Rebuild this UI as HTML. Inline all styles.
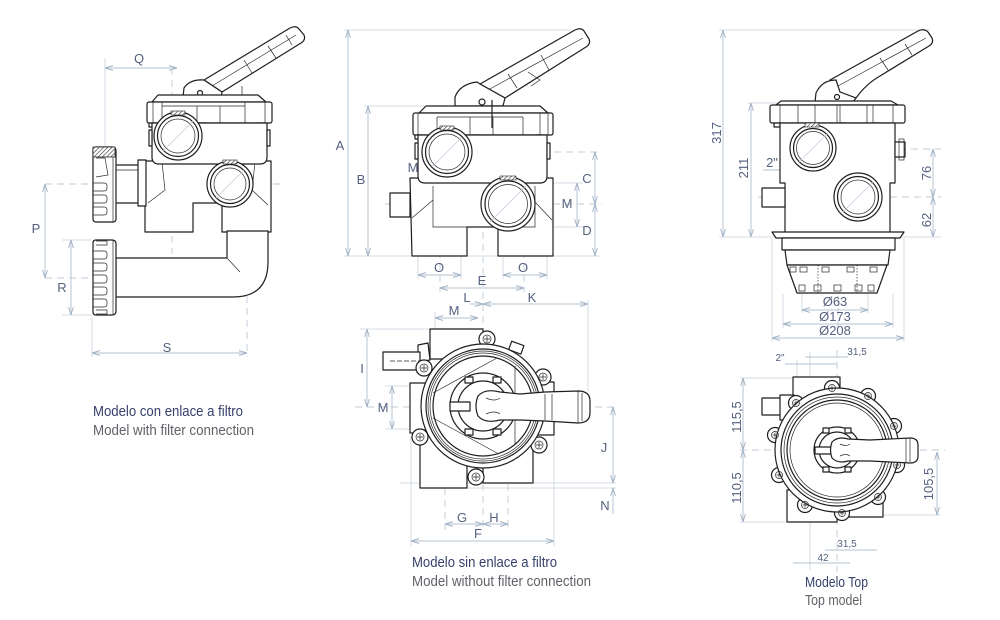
<!DOCTYPE html>
<html><head><meta charset="utf-8"><style>
html,body{margin:0;padding:0;background:#fff;}
svg{display:block}
.d{stroke:#1e1e1e;stroke-width:1.2;fill:#fff;stroke-linejoin:round}
.dn{stroke:#1e1e1e;stroke-width:1.2;fill:none}
.t{stroke:#2a2a2a;stroke-width:0.7;fill:none}
.lt{stroke:#c0cad7;stroke-width:0.7;fill:none}
.dim{stroke:#b3c0d1;stroke-width:0.9;fill:none}
.ext{stroke:#c8d2de;stroke-width:0.8;fill:none}
.dash{stroke:#c0cad7;stroke-width:0.9;fill:none;stroke-dasharray:7 5}
.lb{font-family:"Liberation Sans",sans-serif;font-size:13px;fill:#55617f}
.sm{font-family:"Liberation Sans",sans-serif;font-size:10px;fill:#55617f}
.t1{font-family:"Liberation Sans",sans-serif;font-size:15px;fill:#36416b}
.t2{font-family:"Liberation Sans",sans-serif;font-size:15px;fill:#606268}
</style></head><body>
<svg width="1000" height="620" viewBox="0 0 1000 620" xmlns="http://www.w3.org/2000/svg">
<defs>
<marker id="a" viewBox="0 0 8 6" refX="8" refY="3" markerWidth="8" markerHeight="6" orient="auto-start-reverse" markerUnits="userSpaceOnUse"><path d="M0,0.6 L8,3 L0,5.4" fill="none" stroke="#9fb0c4" stroke-width="0.9"/></marker>
<pattern id="h" width="3" height="3" patternUnits="userSpaceOnUse" patternTransform="rotate(45)"><rect width="3" height="3" fill="#fff"/><line x1="0" y1="0" x2="0" y2="3" stroke="#333" stroke-width="1.2"/></pattern>
</defs>

<!-- ================= VIEW 1 ================= -->
<g>
<line class="ext" x1="105" y1="58" x2="105" y2="152"/>
<line class="dim" x1="105" y1="68" x2="177" y2="68" marker-start="url(#a)" marker-end="url(#a)"/>
<line class="dash" x1="45" y1="184" x2="283" y2="184"/>
<line class="dash" x1="45" y1="278" x2="240" y2="278"/>
<line class="dash" x1="172" y1="68" x2="172" y2="254"/>
<line class="dash" x1="247" y1="200" x2="247" y2="357"/>
<line class="dim" x1="45" y1="184" x2="45" y2="278" marker-start="url(#a)" marker-end="url(#a)"/>
<line class="ext" x1="62" y1="240" x2="92" y2="240"/>
<line class="ext" x1="62" y1="315" x2="92" y2="315"/>
<line class="dim" x1="71" y1="240" x2="71" y2="315" marker-start="url(#a)" marker-end="url(#a)"/>
<line class="ext" x1="92" y1="318" x2="92" y2="357"/>
<line class="dim" x1="92" y1="353" x2="247" y2="353" marker-start="url(#a)" marker-end="url(#a)"/>
<text class="lb" x="139" y="63" text-anchor="middle">Q</text>
<text class="lb" x="36" y="233" text-anchor="middle">P</text>
<text class="lb" x="62" y="292" text-anchor="middle">R</text>
<text class="lb" x="167" y="352" text-anchor="middle">S</text>

<path class="d" d="M204,80 L290,28 Q296,25 299,29 L304,35 Q306,40 301,43 L222,92 Z"/>
<path class="t" d="M212,86 L296,35 M244,60 L252,73 M268,46 L276,58 M286,35 L292,45"/>
<path class="d" d="M183,97 L184,88 Q190,79 204,80 L222,92 L221,97 Z"/>
<circle class="d" cx="200" cy="93" r="2.5"/>
<line class="t" x1="242" y1="86" x2="242" y2="100"/>
<path class="d" d="M152,102 L158,95 L258,95 L266,102 Z"/>
<rect class="d" x="147" y="102" width="125" height="21" rx="2"/>
<path class="t" d="M153,102 V123 M162,102 V123 M197,106 V123 M220,106 V123 M245,102 V123 M265,102 V123 M162,106 H245"/>
<rect class="d" x="149" y="123" width="7" height="4"/><rect class="d" x="199" y="123" width="7" height="4"/><rect class="d" x="256" y="123" width="7" height="4"/>
<path class="d" d="M145,161 L271,161 L271,232 L222,232 L222,203 L193,203 L193,232 L145,232 Z"/>
<path class="t" d="M162,162 L165,190 L148,203 M255,162 L252,190 L268,205"/>
<path class="d" d="M116,258 L227,258 L227,231 L268,231 L268,262 Q268,297 233,297 L116,297 Z"/>
<line class="t" x1="227" y1="258" x2="240" y2="272"/>
<path class="d" d="M152,123 L267,123 L267,157 Q267,164 260,164 L159,164 Q152,164 152,157 Z"/>
<rect class="d" x="149" y="130" width="3" height="16"/><rect class="d" x="267" y="130" width="3" height="16"/>
<circle class="d" cx="178" cy="136" r="24"/>
<circle class="dn" cx="178" cy="136" r="20.5" stroke-width="1.6"/>
<circle class="t" cx="178" cy="136" r="17"/>
<path class="lt" d="M163,151 L193,121"/>
<rect x="171" y="111" width="14" height="4" fill="url(#h)" stroke="#222" stroke-width="0.6"/>
<circle class="d" cx="230" cy="184" r="23"/>
<circle class="dn" cx="230" cy="184" r="19.5" stroke-width="1.6"/>
<circle class="t" cx="230" cy="184" r="16"/>
<path class="lt" d="M216,198 L244,170"/>
<rect x="223" y="160" width="14" height="4" fill="url(#h)" stroke="#222" stroke-width="0.6"/>
<rect class="d" x="114" y="165" width="25" height="38"/>
<rect class="d" x="138" y="160" width="8" height="46"/>
<line class="t" x1="116" y1="170" x2="138" y2="170"/>
<path class="d" d="M93,150 Q93,147 96,147 L112,147 Q116,147 116,151 L116,219 Q116,222 113,222 L96,222 Q93,222 93,219 Z"/>
<rect x="93" y="147" width="22" height="10" fill="url(#h)" stroke="#222" stroke-width="0.8"/>
<path class="t" d="M96,158 L105,158 L108,175 L96,177 M113,157 L113,222"/>
<path class="t" d="M93,183 H104 Q107,183 107,186 V188 Q107,191 104,191 H93 M93,195 H104 Q107,195 107,198 V200 Q107,203 104,203 H93 M93,207 H104 Q107,207 107,210 V212 Q107,215 104,215 H93"/>
<path class="d" d="M93,243 Q93,240 96,240 L112,240 Q116,240 116,244 L116,311 Q116,315 112,315 L96,315 Q93,315 93,312 Z"/>
<path class="t" d="M113,240 V315 M96,241 H107 V245 H96 M96,310 H107 V314 H96"/>
<path class="t" d="M93,251 H104 Q107,251 107,254 V256 Q107,259 104,259 H93 M93,263 H104 Q107,263 107,266 V268 Q107,271 104,271 H93 M93,275 H104 Q107,275 107,278 V280 Q107,283 104,283 H93 M93,287 H104 Q107,287 107,290 V292 Q107,295 104,295 H93 M93,299 H104 Q107,299 107,302 V304 Q107,307 104,307 H93"/>
</g>
<text class="t1" x="93" y="416" textLength="150" lengthAdjust="spacingAndGlyphs">Modelo con enlace a filtro</text>
<text class="t2" x="93" y="435" textLength="161" lengthAdjust="spacingAndGlyphs">Model with filter connection</text>

<!-- ================= VIEW 2 ================= -->
<g>
<line class="ext" x1="344" y1="30" x2="572" y2="30"/>
<line class="ext" x1="364" y1="106" x2="425" y2="106"/>
<line class="ext" x1="344" y1="256" x2="600" y2="256"/>
<line class="dim" x1="348" y1="30" x2="348" y2="256" marker-start="url(#a)" marker-end="url(#a)"/>
<line class="dim" x1="368" y1="106" x2="368" y2="256" marker-start="url(#a)" marker-end="url(#a)"/>
<line class="dash" x1="470" y1="152" x2="600" y2="152"/>
<line class="dash" x1="385" y1="204" x2="602" y2="204"/>
<line class="dash" x1="483" y1="100" x2="483" y2="532"/>
<line class="dim" x1="595" y1="152" x2="595" y2="204" marker-start="url(#a)" marker-end="url(#a)"/>
<line class="dim" x1="595" y1="204" x2="595" y2="256" marker-start="url(#a)" marker-end="url(#a)"/>
<line class="ext" x1="540" y1="183" x2="583" y2="183"/>
<line class="ext" x1="540" y1="227" x2="583" y2="227"/>
<line class="dim" x1="577" y1="183" x2="577" y2="227" marker-start="url(#a)" marker-end="url(#a)"/>
<line class="ext" x1="418" y1="257" x2="418" y2="279"/><line class="ext" x1="461" y1="257" x2="461" y2="279"/>
<line class="ext" x1="503" y1="257" x2="503" y2="279"/><line class="ext" x1="547" y1="257" x2="547" y2="279"/>
<line class="dash" x1="440" y1="227" x2="440" y2="292"/><line class="dash" x1="524" y1="227" x2="524" y2="292"/>
<line class="dim" x1="418" y1="275" x2="461" y2="275" marker-start="url(#a)" marker-end="url(#a)"/>
<line class="dim" x1="503" y1="275" x2="547" y2="275" marker-start="url(#a)" marker-end="url(#a)"/>
<line class="dim" x1="440" y1="288" x2="524" y2="288" marker-start="url(#a)" marker-end="url(#a)"/>
<line class="dim" x1="470" y1="304" x2="483" y2="304" marker-end="url(#a)"/>
<line class="dim" x1="483" y1="304" x2="588" y2="304" marker-start="url(#a)" marker-end="url(#a)"/>
<text class="lb" x="340" y="150" text-anchor="middle">A</text>
<text class="lb" x="361" y="184" text-anchor="middle">B</text>
<text class="lb" x="587" y="183" text-anchor="middle">C</text>
<text class="lb" x="587" y="235" text-anchor="middle">D</text>
<text class="lb" x="567" y="208" text-anchor="middle">M</text>
<text class="lb" x="413" y="172" text-anchor="middle">M</text>
<text class="lb" x="473" y="224" text-anchor="middle">M</text>
<text class="lb" x="439" y="272" text-anchor="middle">O</text>
<text class="lb" x="523" y="272" text-anchor="middle">O</text>
<text class="lb" x="482" y="285" text-anchor="middle">E</text>
<text class="lb" x="467" y="302" text-anchor="middle">L</text>
<text class="lb" x="532" y="302" text-anchor="middle">K</text>

<path class="d" d="M480,84 L575,30 Q581,27 584,31 L589,39 Q591,44 586,47 L505,98 Z"/>
<path class="t" d="M488,90 L583,38 M508,74 L517,88 M541,55 L549,70 M528,72 L540,80 L531,86"/>
<path class="d" d="M455,106 L455,97 Q460,84 477,82 L480,84 L505,98 L503,106 Z"/>
<circle class="d" cx="482" cy="102" r="3"/>
<path class="d" d="M419,113 L426,106 L540,106 L548,113 Z"/>
<rect class="d" x="413" y="113" width="140" height="22" rx="2"/>
<path class="t" d="M418,113 V135 M437,117 V135 M470,117 V135 M493,117 V135 M523,117 V135 M540,113 V135 M548,113 V135 M437,117 H523"/>
<line class="dn" x1="492" y1="100" x2="492" y2="128"/>
<rect class="d" x="415" y="135" width="7" height="4"/><rect class="d" x="473" y="135" width="7" height="4"/><rect class="d" x="535" y="135" width="7" height="4"/>
<path class="d" d="M410,178 L553,178 L553,256 L498,256 L498,227 L467,227 L467,256 L412,256 Z"/>
<path class="t" d="M433,186 L433,227 L535,227 L535,186 M412,218 L433,200 M535,202 L552,220"/>
<rect class="d" x="390" y="193" width="20" height="24"/>
<path class="d" d="M418,135 L547,135 L547,176 Q547,183 540,183 L425,183 Q418,183 418,176 Z"/>
<rect class="d" x="415" y="143" width="3" height="16"/><rect class="d" x="547" y="143" width="3" height="16"/>
<circle class="d" cx="447" cy="152" r="25"/>
<circle class="dn" cx="447" cy="152" r="21.5" stroke-width="1.6"/>
<circle class="t" cx="447" cy="152" r="18"/>
<rect x="440" y="126" width="14" height="4" fill="url(#h)" stroke="#222" stroke-width="0.6"/>
<circle class="d" cx="508" cy="204" r="27"/>
<circle class="dn" cx="508" cy="204" r="23" stroke-width="1.6"/>
<circle class="t" cx="508" cy="204" r="19.5"/>
<rect x="500" y="176" width="16" height="4" fill="url(#h)" stroke="#222" stroke-width="0.6"/>
<path class="lt" d="M432,167 L462,137 M490,222 L526,186"/>
</g>

<!-- ================= VIEW 3 ================= -->
<g>
<line class="ext" x1="588" y1="300" x2="588" y2="392"/>
<line class="ext" x1="435" y1="312" x2="435" y2="330"/>
<line class="dim" x1="435" y1="318" x2="478" y2="318" marker-start="url(#a)" marker-end="url(#a)"/>
<text class="lb" x="454" y="315" text-anchor="middle">M</text>
<line class="ext" x1="360" y1="329" x2="432" y2="329"/>
<line class="dash" x1="355" y1="407" x2="617" y2="407"/>
<line class="dim" x1="367" y1="329" x2="367" y2="407" marker-start="url(#a)" marker-end="url(#a)"/>
<line class="ext" x1="385" y1="386" x2="412" y2="386"/><line class="ext" x1="385" y1="429" x2="412" y2="429"/>
<line class="dim" x1="392" y1="386" x2="392" y2="429" marker-start="url(#a)" marker-end="url(#a)"/>
<line class="ext" x1="400" y1="483" x2="616" y2="483"/>
<line class="ext" x1="467" y1="488" x2="616" y2="488"/>
<line class="dim" x1="613" y1="407" x2="613" y2="483" marker-start="url(#a)" marker-end="url(#a)"/>
<line class="dim" x1="613" y1="514" x2="613" y2="488" marker-end="url(#a)"/>
<line class="dash" x1="445" y1="488" x2="445" y2="530"/>
<line class="dash" x1="508" y1="484" x2="508" y2="530"/>
<line class="dim" x1="445" y1="524" x2="483" y2="524" marker-start="url(#a)" marker-end="url(#a)"/>
<line class="dim" x1="483" y1="524" x2="508" y2="524" marker-start="url(#a)" marker-end="url(#a)"/>
<line class="ext" x1="411" y1="437" x2="411" y2="546"/><line class="ext" x1="554" y1="437" x2="554" y2="546"/>
<line class="dim" x1="411" y1="541" x2="554" y2="541" marker-start="url(#a)" marker-end="url(#a)"/>
<text class="lb" x="362" y="373" text-anchor="middle">I</text>
<text class="lb" x="383" y="412" text-anchor="middle">M</text>
<text class="lb" x="604" y="452" text-anchor="middle">J</text>
<text class="lb" x="605" y="510" text-anchor="middle">N</text>
<text class="lb" x="462" y="522" text-anchor="middle">G</text>
<text class="lb" x="494" y="522" text-anchor="middle">H</text>
<text class="lb" x="478" y="538" text-anchor="middle">F</text>

<rect class="d" x="430" y="329" width="53" height="30"/>
<rect class="d" x="410" y="383" width="20" height="50"/>
<rect class="d" x="420" y="430" width="47" height="58"/>
<rect class="d" x="483" y="437" width="50" height="46"/>
<rect class="d" x="537" y="382" width="17" height="53"/>
<path class="d" d="M418,345 L428,343 L430,360 L418,362 Z"/>
<rect class="d" x="383" y="352" width="37" height="18"/>
<line class="t" x1="390" y1="361" x2="420" y2="361" stroke-dasharray="5 2"/>
<rect class="d" x="510" y="343" width="13" height="9" transform="rotate(20 516 347)"/>
<g class="d">
<circle cx="487" cy="339" r="8"/><circle cx="424" cy="368" r="8"/><circle cx="543" cy="377" r="8"/>
<circle cx="420" cy="437" r="8"/><circle cx="539" cy="445" r="8"/><circle cx="476" cy="477" r="8"/>
</g>
<circle class="d" cx="483" cy="406" r="62"/>
<circle class="dn" cx="483" cy="406" r="57" stroke-width="1.6"/>
<circle class="t" cx="483" cy="406" r="55"/>
<circle class="t" cx="483" cy="406" r="53"/>
<circle class="dn" cx="483" cy="406" r="50"/>
<path class="t" d="M497,358 L433,393 M433,418 L497,453 M515,366 L515,445"/>
<g class="t">
<circle cx="487" cy="339" r="4"/><path d="M484,339 H490 M487,336 V342"/>
<circle cx="424" cy="368" r="4"/><path d="M421,368 H427 M424,365 V371"/>
<circle cx="543" cy="377" r="4"/><path d="M540,377 H546 M543,374 V380"/>
<circle cx="420" cy="437" r="4"/><path d="M417,437 H423 M420,434 V440"/>
<circle cx="539" cy="445" r="4"/><path d="M536,445 H542 M539,442 V448"/>
<circle cx="476" cy="477" r="4"/><path d="M473,477 H479 M476,474 V480"/>
</g>
<circle class="d" cx="483" cy="406" r="33"/>
<circle class="dn" cx="483" cy="406" r="25"/>
<g class="d"><rect x="465" y="377" width="8" height="6"/><rect x="493" y="377" width="8" height="6"/><rect x="465" y="429" width="8" height="6"/><rect x="493" y="429" width="8" height="6"/></g>
<rect class="d" x="450" y="402" width="20" height="9"/>
<path class="d" d="M478,396 Q485,388 500,392 L520,394 L545,392 L578,391 Q590,391 590,401 L590,413 Q590,423 578,423 L545,421 L520,420 L500,420 Q485,424 478,416 Q474,406 478,396 Z"/>
<path class="t" d="M486,398 Q495,402 500,398 M486,414 Q495,410 500,414 M578,391 V423 M582,393 V421 M545,394 V420 M552,394 V420"/>
</g>
<text class="t1" x="412" y="567" textLength="145" lengthAdjust="spacingAndGlyphs">Modelo sin enlace a filtro</text>
<text class="t2" x="412" y="586" textLength="179" lengthAdjust="spacingAndGlyphs">Model without filter connection</text>

<!-- ================= VIEW 4 ================= -->
<g>
<line class="ext" x1="719" y1="30" x2="930" y2="30"/>
<line class="ext" x1="747" y1="103" x2="792" y2="103"/>
<line class="ext" x1="719" y1="237" x2="941" y2="237"/>
<line class="dim" x1="723" y1="30" x2="723" y2="237" marker-start="url(#a)" marker-end="url(#a)"/>
<line class="dim" x1="751" y1="103" x2="751" y2="237" marker-start="url(#a)" marker-end="url(#a)"/>
<line class="dash" x1="815" y1="149" x2="941" y2="149"/>
<line class="dash" x1="758" y1="197" x2="941" y2="197"/>
<line class="dash" x1="838" y1="80" x2="838" y2="330"/>
<line class="dim" x1="933" y1="149" x2="933" y2="197" marker-start="url(#a)" marker-end="url(#a)"/>
<line class="dim" x1="933" y1="197" x2="933" y2="237" marker-start="url(#a)" marker-end="url(#a)"/>
<line class="dim" x1="763" y1="170" x2="800" y2="170"/>
<line class="dim" x1="810" y1="218" x2="850" y2="218"/>
<line class="ext" x1="772" y1="238" x2="772" y2="342"/><line class="ext" x1="904" y1="238" x2="904" y2="342"/>
<line class="ext" x1="783" y1="294" x2="783" y2="328"/><line class="ext" x1="893" y1="294" x2="893" y2="328"/>
<line class="ext" x1="802" y1="294" x2="802" y2="313"/><line class="ext" x1="868" y1="294" x2="868" y2="313"/>
<line class="dim" x1="802" y1="310" x2="868" y2="310" marker-start="url(#a)" marker-end="url(#a)"/>
<line class="dim" x1="783" y1="324" x2="893" y2="324" marker-start="url(#a)" marker-end="url(#a)"/>
<line class="dim" x1="772" y1="338" x2="904" y2="338" marker-start="url(#a)" marker-end="url(#a)"/>
<text class="lb" transform="translate(721,133) rotate(-90)" text-anchor="middle">317</text>
<text class="lb" transform="translate(748,168) rotate(-90)" text-anchor="middle">211</text>
<text class="lb" transform="translate(931,173) rotate(-90)" text-anchor="middle">76</text>
<text class="lb" transform="translate(931,220) rotate(-90)" text-anchor="middle">62</text>
<text class="lb" x="772" y="167" text-anchor="middle">2"</text>
<text class="lb" x="818" y="217" text-anchor="middle">2"</text>
<text class="lb" x="835" y="306" text-anchor="middle">Ø63</text>
<text class="lb" x="835" y="321" text-anchor="middle">Ø173</text>
<text class="lb" x="835" y="335" text-anchor="middle">Ø208</text>

<path class="d" d="M830,80 L918,31 Q924,28 928,32 L932,38 Q934,43 929,46 L880,76 Q866,84 856,98 L840,92 Z"/>
<path class="t" d="M838,86 L926,38 M880,58 L888,70 M905,44 L912,55"/>
<path class="d" d="M815,102 L816,93 Q822,80 836,80 L840,92 L856,98 L853,102 Z"/>
<circle class="d" cx="837" cy="97" r="2.5"/>
<path class="d" d="M776,105 L781,101 L891,101 L898,105 Z"/>
<rect class="d" x="770" y="105" width="135" height="18" rx="2"/>
<path class="t" d="M780,105 V123 M798,105 V123 M815,105 V123 M837,105 V123 M840,105 V123 M867,105 V123 M873,105 V123 M893,105 V123"/>
<g class="d"><rect x="774" y="123" width="6" height="4"/><rect x="807" y="123" width="6" height="4"/><rect x="840" y="123" width="6" height="4"/><rect x="874" y="123" width="6" height="4"/></g>
<path class="d" d="M780,123 L895,123 L895,183 L890,183 L890,233 L785,233 L785,183 L780,183 Z"/>
<rect class="d" x="762" y="188" width="23" height="19"/>
<rect class="d" x="895" y="142" width="10" height="15"/>
<rect class="t" x="899" y="139" width="5" height="21"/>
<path class="d" d="M772,232 L904,232 L900,238 L776,238 Z"/>
<rect class="d" x="782" y="238" width="113" height="12"/>
<path class="d" d="M785,250 L890,250 L888,265 L787,265 Z"/>
<path class="d" d="M787,265 L887,265 L877,293 L797,293 Z"/>
<g class="t">
<rect x="790" y="267" width="6" height="5"/><rect x="800" y="267" width="7" height="5"/><rect x="822" y="267" width="7" height="5"/><rect x="847" y="267" width="7" height="5"/><rect x="870" y="267" width="7" height="5"/>
<rect x="799" y="285" width="6" height="6"/><rect x="814" y="285" width="7" height="6"/><rect x="834" y="285" width="7" height="6"/><rect x="855" y="285" width="7" height="6"/><rect x="868" y="285" width="6" height="6"/>
<path d="M818,265 V293 M857,265 V293" stroke-dasharray="1.5 1.5"/>
</g>
<circle class="d" cx="813" cy="148" r="23"/>
<circle class="dn" cx="813" cy="148" r="19.5" stroke-width="1.6"/>
<circle class="t" cx="813" cy="148" r="16.5"/>
<rect x="805" y="123" width="14" height="4" fill="url(#h)" stroke="#222" stroke-width="0.6"/>
<circle class="d" cx="858" cy="197" r="24"/>
<circle class="dn" cx="858" cy="197" r="20.5" stroke-width="1.6"/>
<circle class="t" cx="858" cy="197" r="17"/>
<path class="lt" d="M798,163 L828,133 M843,212 L873,182"/>
</g>

<!-- ================= VIEW 5 ================= -->
<g>
<line class="dash" x1="740" y1="450" x2="945" y2="450"/>
<line class="dash" x1="837" y1="350" x2="837" y2="572"/>
<line class="ext" x1="740" y1="378" x2="795" y2="378"/>
<line class="ext" x1="740" y1="522" x2="790" y2="522"/>
<line class="ext" x1="880" y1="515" x2="941" y2="515"/>
<line class="dim" x1="743" y1="378" x2="743" y2="450" marker-start="url(#a)" marker-end="url(#a)"/>
<line class="dim" x1="743" y1="450" x2="743" y2="522" marker-start="url(#a)" marker-end="url(#a)"/>
<line class="dim" x1="937" y1="452" x2="937" y2="515" marker-start="url(#a)" marker-end="url(#a)"/>
<line class="ext" x1="797" y1="360" x2="797" y2="377"/><line class="ext" x1="810" y1="352" x2="810" y2="377"/>
<line class="dim" x1="785" y1="364" x2="837" y2="364"/>
<line class="dim" x1="805" y1="357" x2="848" y2="357"/>
<line class="ext" x1="810" y1="522" x2="810" y2="570"/>
<line class="dim" x1="825" y1="550" x2="877" y2="550"/>
<line class="dim" x1="793" y1="563" x2="850" y2="563"/>
<text class="lb" transform="translate(741,417) rotate(-90)" text-anchor="middle">115,5</text>
<text class="lb" transform="translate(741,488) rotate(-90)" text-anchor="middle">110,5</text>
<text class="lb" transform="translate(933,484) rotate(-90)" text-anchor="middle">105,5</text>
<text class="sm" x="780" y="361" text-anchor="middle">2"</text>
<text class="sm" x="857" y="355" text-anchor="middle">31,5</text>
<text class="sm" x="847" y="547" text-anchor="middle">31,5</text>
<text class="sm" x="823" y="561" text-anchor="middle">42</text>

<rect class="d" x="793" y="377" width="47" height="30"/>
<rect class="d" x="762" y="398" width="25" height="17"/>
<rect class="d" x="780" y="395" width="14" height="25"/>
<rect class="d" x="787" y="490" width="50" height="32"/>
<rect class="d" x="840" y="495" width="43" height="22"/>
<g class="d">
<circle cx="832" cy="388" r="7.5"/><circle cx="868" cy="396" r="7.5"/><circle cx="894" cy="426" r="7.5"/>
<circle cx="897" cy="465" r="7.5"/><circle cx="878" cy="497" r="7.5"/><circle cx="842" cy="513" r="7.5"/>
<circle cx="805" cy="505" r="7.5"/><circle cx="779" cy="475" r="7.5"/><circle cx="775" cy="435" r="7.5"/><circle cx="796" cy="403" r="7.5"/>
</g>
<circle class="d" cx="837" cy="450" r="62"/>
<circle class="dn" cx="837" cy="450" r="56" stroke-width="1.6"/>
<circle class="t" cx="837" cy="450" r="53"/>
<circle class="dn" cx="837" cy="450" r="50" stroke-width="1.4"/>
<circle class="t" cx="837" cy="450" r="47"/>
<g class="t">
<circle cx="832" cy="388" r="3.5"/><path d="M829.5,388 h5 M832,385.5 v5"/>
<circle cx="868" cy="396" r="3.5"/><path d="M865.5,396 h5 M868,393.5 v5"/>
<circle cx="894" cy="426" r="3.5"/><path d="M891.5,426 h5 M894,423.5 v5"/>
<circle cx="897" cy="465" r="3.5"/><path d="M894.5,465 h5 M897,462.5 v5"/>
<circle cx="878" cy="497" r="3.5"/><path d="M875.5,497 h5 M878,494.5 v5"/>
<circle cx="842" cy="513" r="3.5"/><path d="M839.5,513 h5 M842,510.5 v5"/>
<circle cx="805" cy="505" r="3.5"/><path d="M802.5,505 h5 M805,502.5 v5"/>
<circle cx="779" cy="475" r="3.5"/><path d="M776.5,475 h5 M779,472.5 v5"/>
<circle cx="775" cy="435" r="3.5"/><path d="M772.5,435 h5 M775,432.5 v5"/>
<circle cx="796" cy="403" r="3.5"/><path d="M793.5,403 h5 M796,400.5 v5"/>
</g>
<circle class="d" cx="837" cy="450" r="23"/>
<circle class="dn" cx="837" cy="450" r="18"/>
<g class="d"><rect x="823" y="428" width="6" height="5"/><rect x="845" y="428" width="6" height="5"/><rect x="823" y="467" width="6" height="5"/><rect x="845" y="467" width="6" height="5"/></g>
<rect class="d" x="815" y="447" width="16" height="7"/>
<path class="d" d="M832,442 Q838,436 848,439 L870,440 L910,438 Q918,438 918,445 L918,456 Q918,463 910,463 L870,461 L848,461 Q838,464 832,458 Q829,450 832,442 Z"/>
<path class="t" d="M840,444 Q846,447 850,444 M840,456 Q846,453 850,456 M906,438 V463 M910,439 V462"/>
</g>
<text class="t1" x="805" y="587" textLength="63" lengthAdjust="spacingAndGlyphs">Modelo Top</text>
<text class="t2" x="805" y="605" textLength="57" lengthAdjust="spacingAndGlyphs">Top model</text>
</svg>
</body></html>
